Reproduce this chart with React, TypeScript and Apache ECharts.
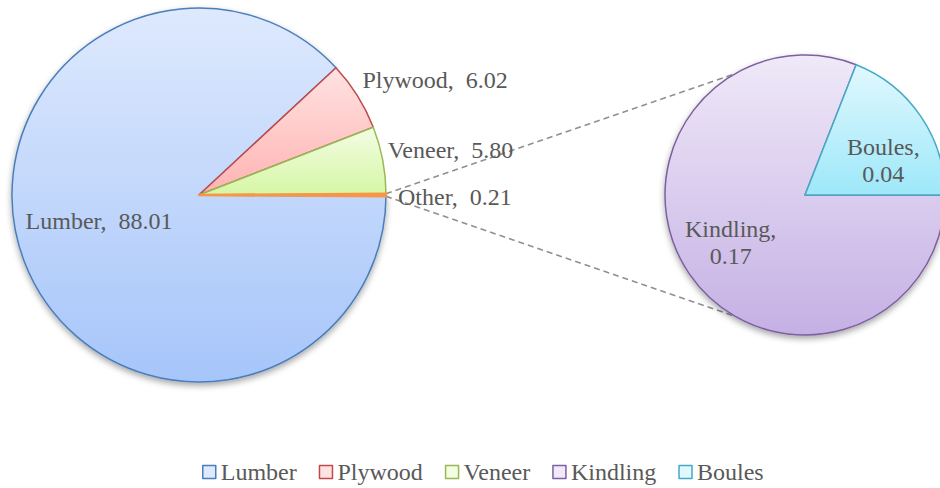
import React, { useEffect, useRef } from 'react';
import * as echarts from 'echarts';

// ---- data ----
const mainNames = ['Lumber', 'Plywood', 'Veneer', 'Other'];
const mainValues = [88.01, 6.02, 5.8, 0.21];
const subNames = ['Kindling', 'Boules'];
const subValues = [0.17, 0.04];
const legendNames = ['Lumber', 'Plywood', 'Veneer', 'Kindling', 'Boules'];

// ---- styles ----
const styles: Record<string, { top: string; bottom: string; border: string }> = {
  Lumber: { top: '#dee9fd', bottom: '#a6c5fa', border: '#4a7ebb' },
  Plywood: { top: '#ffe2e2', bottom: '#ffb3b2', border: '#be4b48' },
  Veneer: { top: '#f3fde4', bottom: '#d6f6a5', border: '#98b954' },
  Other: { top: '#f79646', bottom: '#f79646', border: '#f79646' },
  Kindling: { top: '#efe9f8', bottom: '#c5b0e4', border: '#7d60a0' },
  Boules: { top: '#e1f8fe', bottom: '#9de8f9', border: '#46aac5' },
};

const FONT = '"Liberation Serif", "Times New Roman", serif';
const TEXT_COLOR = '#595959';
const LEFT_C = [199, 195];
const LEFT_R = 187;
const RIGHT_C = [805, 195];
const RIGHT_R = 140;
const CONNECT_DEG = 120;

const grad = (n: string) =>
  new echarts.graphic.LinearGradient(0, 0, 0, 1, [
    { offset: 0, color: styles[n].top },
    { offset: 1, color: styles[n].bottom },
  ]);

const itemStyleFor = (n: string, shadow: boolean) => ({
  color: grad(n),
  borderColor: styles[n].border,
  borderWidth: n === 'Other' ? 2.5 : 1.5,
  ...(shadow
    ? { shadowBlur: 6, shadowOffsetY: 3, shadowColor: 'rgba(0,0,0,0.35)' }
    : {}),
});

// label nudges (pixels)
const mainLabelShift = [
  { dx: -10, dy: -9 },
  { dx: 0, dy: -16 },
  { dx: 0, dy: -10 },
  { dx: 7, dy: 2 },
];
const subLabelShift = [
  { dx: -14, dy: 6 },
  { dx: 18, dy: 7 },
];

export default function App() {
  const ref = useRef<HTMLDivElement>(null);
  useEffect(() => {
    document.body.style.margin = '0';
    if (!ref.current) return;
    const chart = echarts.init(ref.current, undefined, { renderer: 'svg' });

    const sum = mainValues.reduce((a, b) => a + b, 0);
    const otherIdx = mainNames.indexOf('Other');
    const halfOther = (mainValues[otherIdx] / sum) * 180; // degrees
    const startAngle = 360 - halfOther;

    const h = (halfOther * Math.PI) / 180;
    const a = (CONNECT_DEG * Math.PI) / 180;
    const p1 = [LEFT_C[0] + LEFT_R * Math.cos(h), LEFT_C[1] - LEFT_R * Math.sin(h)];
    const p2 = [LEFT_C[0] + LEFT_R * Math.cos(h), LEFT_C[1] + LEFT_R * Math.sin(h)];
    const q1 = [RIGHT_C[0] + RIGHT_R * Math.cos(a), RIGHT_C[1] - RIGHT_R * Math.sin(a)];
    const q2 = [RIGHT_C[0] + RIGHT_R * Math.cos(a), RIGHT_C[1] + RIGHT_R * Math.sin(a)];
    const lineStyle = { stroke: '#8f8f8f', lineWidth: 1.5, lineDash: [6, 4] };

    const labelBase = {
      fontFamily: FONT,
      fontSize: 24,
      color: TEXT_COLOR,
    };

    chart.setOption({
      animation: false,
      backgroundColor: '#ffffff',
      legend: {
        data: legendNames.map((n) => ({
          name: n,
          itemStyle: { color: styles[n].top, borderColor: styles[n].border, borderWidth: 1.5 },
        })),
        icon: 'rect',
        itemWidth: 13,
        itemHeight: 13,
        itemGap: 22,
        left: 202,
        top: 459,
        padding: 0,
        selectedMode: false,
        textStyle: { fontFamily: FONT, fontSize: 24, lineHeight: 26, color: TEXT_COLOR },
      },
      graphic: [
        { type: 'line', z: 0, silent: true, shape: { x1: p1[0], y1: p1[1], x2: q1[0], y2: q1[1] }, style: lineStyle },
        { type: 'line', z: 0, silent: true, shape: { x1: p2[0], y1: p2[1], x2: q2[0], y2: q2[1] }, style: lineStyle },
      ],
      series: [
        {
          type: 'pie',
          silent: true,
          center: LEFT_C,
          radius: LEFT_R,
          startAngle,
          clockwise: true,
          avoidLabelOverlap: false,
          emphasis: { disabled: true },
          label: {
            ...labelBase,
            position: 'outside',
            distanceToLabelLine: 5,
            formatter: (p: any) => `${p.name},  ${Number(p.value).toFixed(2)}`,
          },
          labelLine: { show: false, length: 0, length2: 0 },
          labelLayout: (p: any) => mainLabelShift[p.dataIndex] || {},
          data: mainNames.map((n, i) => ({
            name: n,
            value: mainValues[i],
            itemStyle: itemStyleFor(n, i === 0),
            ...(i === 0 ? { label: { position: 'inside' } } : {}),
          })),
        },
        {
          type: 'pie',
          silent: true,
          center: RIGHT_C,
          radius: RIGHT_R,
          startAngle: 0,
          clockwise: true,
          avoidLabelOverlap: false,
          emphasis: { disabled: true },
          label: {
            ...labelBase,
            position: 'inside',
            lineHeight: 27,
            align: 'center',
            formatter: (p: any) => `${p.name},\n${Number(p.value).toFixed(2)}`,
          },
          labelLine: { show: false },
          labelLayout: (p: any) => subLabelShift[p.dataIndex] || {},
          data: subNames.map((n, i) => ({
            name: n,
            value: subValues[i],
            itemStyle: itemStyleFor(n, i === 0),
          })),
        },
      ],
    });
    return () => chart.dispose();
  }, []);
  return <div ref={ref} style={{ width: 940, height: 488 }} />;
}
